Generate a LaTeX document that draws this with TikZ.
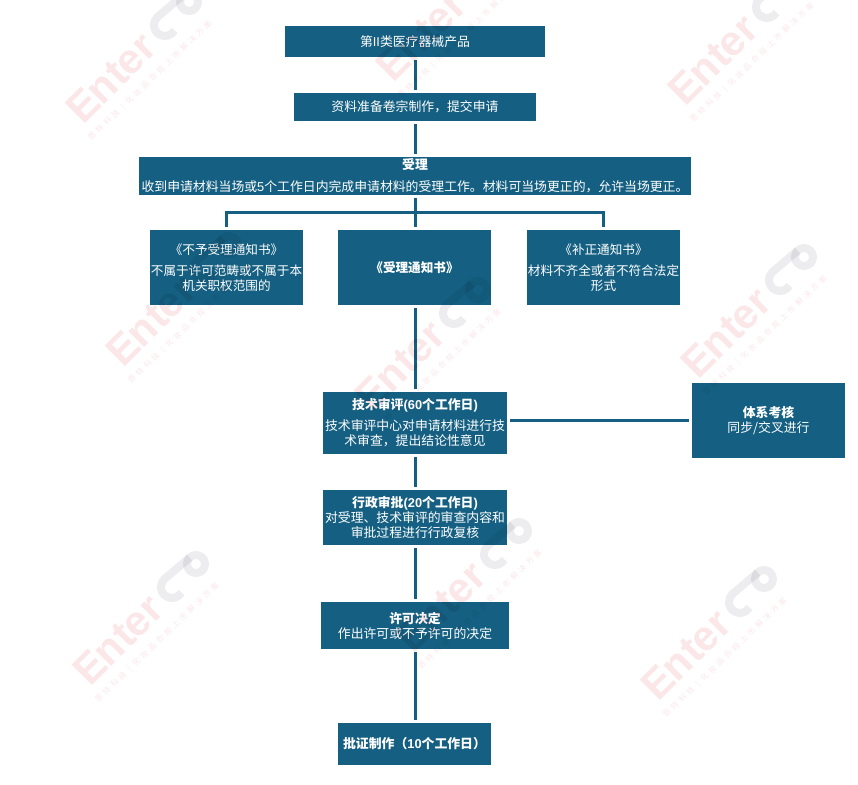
\documentclass[tikz,border=0pt]{standalone}
\usepackage{fontspec}
\setmainfont{Noto Sans CJK SC}
\newfontfamily\latinfont{Liberation Sans}
\newfontfamily\markfont[LetterSpace=45]{Noto Sans CJK SC}
\usepackage{xcolor}
\definecolor{boxblue}{HTML}{156082}
\definecolor{markpink}{HTML}{FBE6E8}
\definecolor{markgray}{HTML}{EDEDEF}
\tikzset{
  boxnode/.style={fill=boxblue, text=white, align=center, inner sep=0, font=\fontsize{12.85}{15}\selectfont},
  sidenode/.style={boxnode, minimum width=153pt, minimum height=75pt, font=\fontsize{12.6}{15}\selectfont},
  linkline/.style={draw=boxblue, line width=3pt, shorten >=3pt, shorten <=3pt},
  markword/.style={text=markpink, anchor=base west, inner sep=0, rotate=45, font=\latinfont\bfseries\fontsize{42}{42}\selectfont},
  marksmall/.style={text=markpink, anchor=base west, inner sep=0, rotate=44, font=\markfont\fontsize{7.5}{8}\selectfont}
}
\begin{document}
\begin{tikzpicture}[x=1pt, y=-1pt]
\useasboundingbox (0,0) rectangle (858,784);
\node[boxnode, minimum width=260pt, minimum height=31pt] (product) at (415,41.5) {第{\latinfont II}类医疗器械产品};
\node[boxnode, minimum width=242pt, minimum height=28pt] (prepare) at (415,107) {资料准备卷宗制作，提交申请};
\node[boxnode, minimum width=552pt, minimum height=38pt] (accept) at (415,176) {\textbf{受理}\\[7pt]收到申请材料当场或{\latinfont 5}个工作日内完成申请材料的受理工作。材料可当场更正的，允许当场更正。};
\node[sidenode] (refuse) at (226.5,267.5) {《不予受理通知书》\\[6pt]不属于许可范畴或不属于本\\机关职权范围的};
\node[sidenode] (notice) at (414.5,267.5) {\textbf{《受理通知书》}};
\node[sidenode] (correct) at (603.5,267.5) {《补正通知书》\\[6pt]材料不齐全或者不符合法定\\形式};
\node[boxnode, minimum width=184pt, minimum height=62pt] (review) at (415,423) {\textbf{技术审评{\latinfont (60}个工作日{\latinfont )}}\\[6pt]技术审评中心对申请材料进行技\\术审查，提出结论性意见};
\node[boxnode, minimum width=153pt, minimum height=75pt] (system) at (768.5,420.5) {\textbf{体系考核}\\同步/交叉进行};
\node[boxnode, minimum width=184pt, minimum height=55pt] (admin) at (415,517.5) {\textbf{行政审批{\latinfont (20}个工作日{\latinfont )}}\\对受理、技术审评的审查内容和\\审批过程进行行政复核};
\node[boxnode, minimum width=188pt, minimum height=47pt] (decide) at (415,625.5) {\textbf{许可决定}\\作出许可或不予许可的决定};
\node[boxnode, minimum width=153pt, minimum height=42pt] (issue) at (414.5,744) {\textbf{批证制作（{\latinfont 10}个工作日）}};
\coordinate (split) at (415,212);
\draw[linkline] (product) -- (prepare);
\draw[linkline] (prepare) -- (accept);
\draw[linkline] (accept.south -| split) -- (notice.north -| split);
\draw[linkline, shorten <=0pt] (split) -| (refuse);
\draw[linkline, shorten <=0pt] (split) -| (correct);
\draw[linkline] (notice.south -| split) -- (review.north -| split);
\draw[linkline] (review) -- (admin);
\draw[linkline] (admin) -- (decide);
\draw[linkline] (decide.south -| split) -- (issue.north -| split);
\draw[linkline] (review.east |- system) -- (system.west);
% watermark on top of the boxes
\begin{scope}[blend mode=multiply]
\clip (0,0) rectangle (858,784);
\foreach \x/\y/\i in {83/126/a, 393/84/b, 685/108/c, 123/369/d, 372/414/e, 698/381/f, 90/688/g, 413/655/h, 658/703/i} {
  \node[markword] (word\i) at (\x,\y) {Enter};
  \node[marksmall] (small\i) at (\x+8,\y+15) {恩特科技 | 化妆品合规上市解决方案};
  \draw[markgray, line width=8pt] (\x+106,\y-124) circle (9);
  \draw[markgray, line width=8pt] (\x+82+9.5,\y-101+5.5) arc (30:225:11) -- (\x+106-6.4,\y-124-6.4);
}
\end{scope}
\end{tikzpicture}
\end{document}
